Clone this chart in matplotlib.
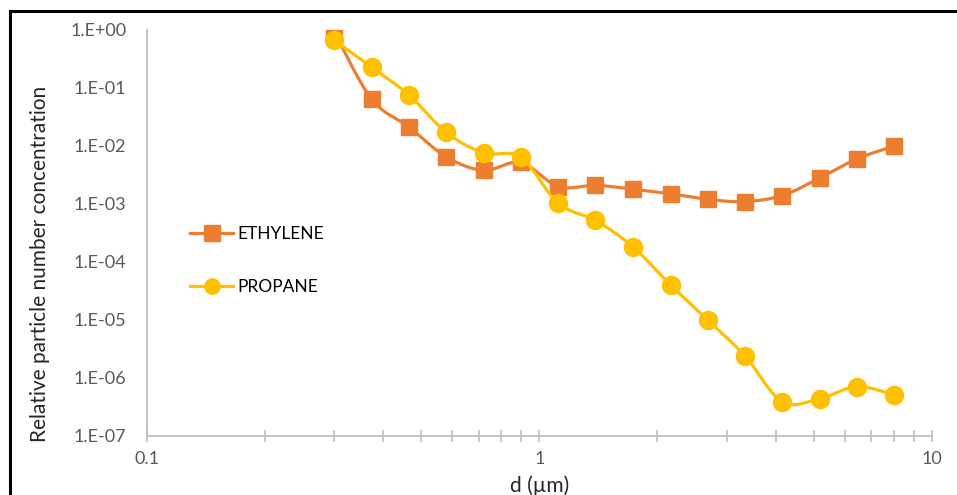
import matplotlib
matplotlib.use("Agg")
import matplotlib.pyplot as plt
import numpy as np
from matplotlib.patches import Rectangle

# diâmetros (µm) e concentrações relativas
d_um = [0.30, 0.374, 0.465, 0.579, 0.721, 0.897, 1.117, 1.39, 1.73,
        2.16, 2.69, 3.34, 4.16, 5.18, 6.45, 8.03]
ethylene = [0.92, 0.064, 0.0213, 0.0065, 0.0038, 0.0052, 0.0020, 0.0021,
            0.0018, 0.0015, 0.0012, 0.0011, 0.0014, 0.0028, 0.0060, 0.010]
propane = [0.67, 0.227, 0.076, 0.0172, 0.0076, 0.0064, 0.00103, 0.00052,
           0.000184, 4.0e-5, 9.9e-6, 2.4e-6, 3.9e-7, 4.4e-7, 7.1e-7, 5.1e-7]

y_ticks = [1e0, 1e-1, 1e-2, 1e-3, 1e-4, 1e-5, 1e-6, 1e-7]
y_labels = ["1.E+00", "1.E-01", "1.E-02", "1.E-03", "1.E-04", "1.E-05", "1.E-06", "1.E-07"]
x_ticks = [0.1, 1, 10]
x_labels = ["0.1", "1", "10"]


def curva_suave(x, y, n=30):
    # linha suavizada tipo Excel (Catmull-Rom) no espaço log-log
    lx, ly = np.log10(x), np.log10(y)
    p = np.column_stack([lx, ly])
    p = np.vstack([p[0], p, p[-1]])
    out = []
    t = np.linspace(0, 1, n)[:, None]
    for i in range(1, len(p) - 2):
        p0, p1, p2, p3 = p[i - 1], p[i], p[i + 1], p[i + 2]
        c1 = p1 + (p2 - p0) / 6
        c2 = p2 - (p3 - p1) / 6
        seg = ((1 - t) ** 3) * p1 + 3 * ((1 - t) ** 2) * t * c1 + 3 * (1 - t) * t ** 2 * c2 + t ** 3 * p2
        out.append(seg)
    out = np.vstack(out)
    return 10 ** out[:, 0], 10 ** out[:, 1]


plt.rcParams["font.family"] = ["Lato", "DejaVu Sans"]

fig = plt.figure(figsize=(9.57, 4.95), dpi=100)
ax = fig.add_axes([0.1536, 0.1192, 0.82, 0.8202])

laranja = "#ED7D31"
amarelo = "#FFC000"

xs, ys = curva_suave(d_um, ethylene)
ax.plot(xs, ys, color=laranja, lw=2.3, zorder=2)
ax.plot(d_um, ethylene, "s", color=laranja, ms=12, zorder=3)
ax.plot([], [], color=laranja, lw=2.3, marker="s", ms=11, label="ETHYLENE")

xs, ys = curva_suave(d_um, propane)
ax.plot(xs, ys, color=amarelo, lw=2.3, zorder=4)
ax.plot(d_um, propane, "o", color=amarelo, ms=13, zorder=5)
ax.plot([], [], color=amarelo, lw=2.3, marker="o", ms=11, label="PROPANE")

ax.set_xscale("log")
ax.set_yscale("log")
ax.set_xlim(0.1, 10)
ax.set_ylim(1e-7, 1e0)

ax.set_yticks(y_ticks)
ax.set_yticklabels(y_labels)
ax.yaxis.set_minor_locator(matplotlib.ticker.NullLocator())
ax.set_xticks(x_ticks)
ax.set_xticklabels(x_labels)
ax.xaxis.set_minor_locator(matplotlib.ticker.LogLocator(base=10, subs=np.arange(2, 10)))
ax.xaxis.set_minor_formatter(matplotlib.ticker.NullFormatter())

cinza = "#BFBFBF"
for lado in ["top", "right"]:
    ax.spines[lado].set_visible(False)
for lado in ["left", "bottom"]:
    ax.spines[lado].set_color(cinza)
    ax.spines[lado].set_linewidth(1.3)

ax.tick_params(axis="y", length=0, pad=15, labelsize=13, labelcolor="#595959")
ax.tick_params(axis="x", which="both", direction="inout", length=8, width=1.2,
               color=cinza, pad=7, labelsize=13, labelcolor="#595959")

ax.set_xlabel("d (µm)", fontsize=15, color="#262626")
ax.xaxis.set_label_coords(0.5, -0.097)
ax.set_ylabel("Relative particle number concentration", fontsize=15, color="#262626")
ax.yaxis.set_label_coords(-0.124, 0.424)

ax.legend(loc="upper left", bbox_to_anchor=(0.035, 0.555), frameon=False, fontsize=12.5,
          handlelength=2.5, handletextpad=0.2, labelspacing=2.1)

# moldura preta (só esquerda e topo visíveis)
fig.patches.append(Rectangle((10 / 957, -0.2), 1.2, 1.2 - 11 / 495,
                             transform=fig.transFigure, fill=False,
                             edgecolor="black", lw=2.2))

fig.savefig("out.png", dpi=100)
